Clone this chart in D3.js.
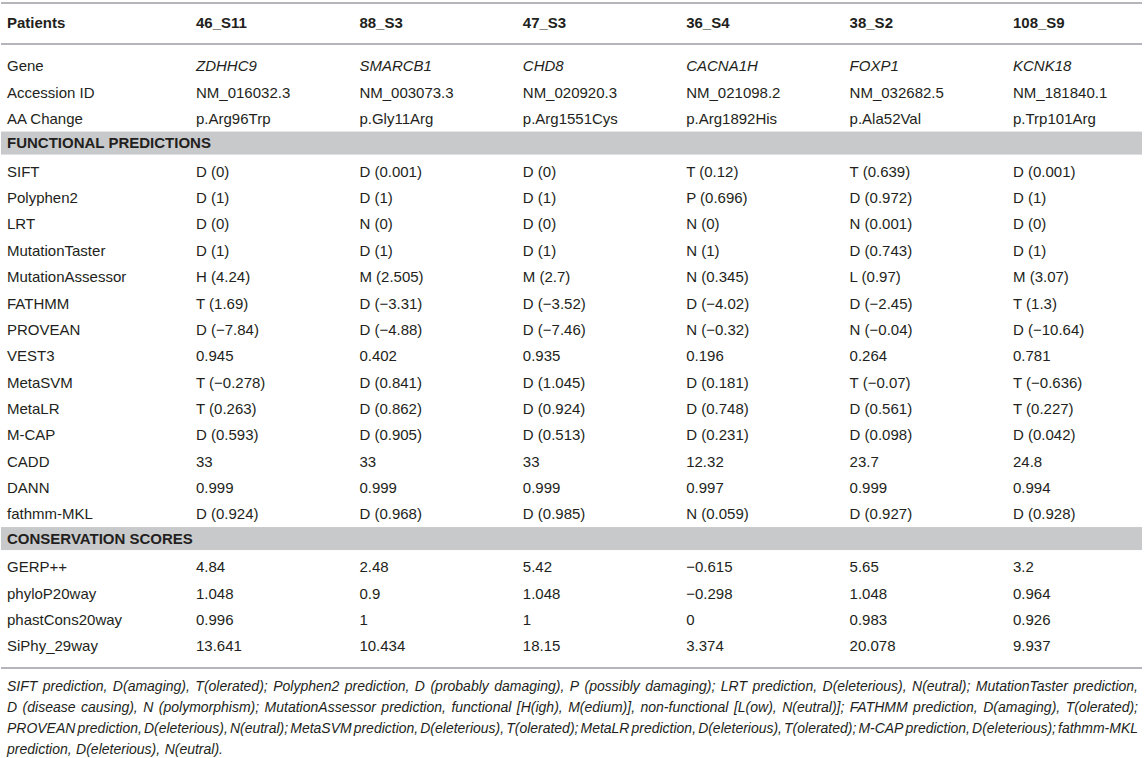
<!DOCTYPE html>
<html>
<head>
<meta charset="utf-8">
<script src="https://cdn.jsdelivr.net/npm/d3@7"></script>
<style>
  body { margin: 0; background: #fff; }
  svg { display: block; font-family: "Liberation Sans", Arial, Helvetica, sans-serif; }
</style>
</head>
<body>
<script>
// column headers
const patients = ["46_S11", "88_S3", "47_S3", "36_S4", "38_S2", "108_S9"];

// variant info
const genes = ["ZDHHC9", "SMARCB1", "CHD8", "CACNA1H", "FOXP1", "KCNK18"];
const accessions = ["NM_016032.3", "NM_003073.3", "NM_020920.3", "NM_021098.2", "NM_032682.5", "NM_181840.1"];
const aaChanges = ["p.Arg96Trp", "p.Gly11Arg", "p.Arg1551Cys", "p.Arg1892His", "p.Ala52Val", "p.Trp101Arg"];

// functional predictions
const functionalTools = ["SIFT", "Polyphen2", "LRT", "MutationTaster", "MutationAssessor", "FATHMM",
  "PROVEAN", "VEST3", "MetaSVM", "MetaLR", "M-CAP", "CADD", "DANN", "fathmm-MKL"];
const sift = ["D (0)", "D (0.001)", "D (0)", "T (0.12)", "T (0.639)", "D (0.001)"];
const polyphen2 = ["D (1)", "D (1)", "D (1)", "P (0.696)", "D (0.972)", "D (1)"];
const lrt = ["D (0)", "N (0)", "D (0)", "N (0)", "N (0.001)", "D (0)"];
const mutationTaster = ["D (1)", "D (1)", "D (1)", "N (1)", "D (0.743)", "D (1)"];
const mutationAssessor = ["H (4.24)", "M (2.505)", "M (2.7)", "N (0.345)", "L (0.97)", "M (3.07)"];
const fathmm = ["T (1.69)", "D (−3.31)", "D (−3.52)", "D (−4.02)", "D (−2.45)", "T (1.3)"];
const provean = ["D (−7.84)", "D (−4.88)", "D (−7.46)", "N (−0.32)", "N (−0.04)", "D (−10.64)"];
const vest3 = ["0.945", "0.402", "0.935", "0.196", "0.264", "0.781"];
const metaSVM = ["T (−0.278)", "D (0.841)", "D (1.045)", "D (0.181)", "T (−0.07)", "T (−0.636)"];
const metaLR = ["T (0.263)", "D (0.862)", "D (0.924)", "D (0.748)", "D (0.561)", "T (0.227)"];
const mCap = ["D (0.593)", "D (0.905)", "D (0.513)", "D (0.231)", "D (0.098)", "D (0.042)"];
const cadd = ["33", "33", "33", "12.32", "23.7", "24.8"];
const dann = ["0.999", "0.999", "0.999", "0.997", "0.999", "0.994"];
const fathmmMKL = ["D (0.924)", "D (0.968)", "D (0.985)", "N (0.059)", "D (0.927)", "D (0.928)"];

// conservation scores
const conservationTools = ["GERP++", "phyloP20way", "phastCons20way", "SiPhy_29way"];
const gerp = ["4.84", "2.48", "5.42", "−0.615", "5.65", "3.2"];
const phyloP = ["1.048", "0.9", "1.048", "−0.298", "1.048", "0.964"];
const phastCons = ["0.996", "1", "1", "0", "0.983", "0.926"];
const siPhy = ["13.641", "10.434", "18.15", "3.374", "20.078", "9.937"];

const footnoteLines = [
  "SIFT prediction, D(amaging), T(olerated); Polyphen2 prediction, D (probably damaging), P (possibly damaging); LRT prediction, D(eleterious), N(eutral); MutationTaster prediction,",
  "D (disease causing), N (polymorphism); MutationAssessor prediction, functional [H(igh), M(edium)], non-functional [L(ow), N(eutral)]; FATHMM prediction, D(amaging), T(olerated);",
  "PROVEAN prediction, D(eleterious), N(eutral); MetaSVM prediction, D(eleterious), T(olerated); MetaLR prediction, D(eleterious), T(olerated); M-CAP prediction, D(eleterious); fathmm-MKL",
  "prediction, D(eleterious), N(eutral)."
];

const sections = ["FUNCTIONAL PREDICTIONS", "CONSERVATION SCORES"];

const rows = [
  {key: "Gene", vals: genes, italic: true},
  {key: "Accession ID", vals: accessions},
  {key: "AA Change", vals: aaChanges},
  {key: sections[0], section: true},
  ...functionalTools.map((t, i) => ({key: t, vals: [sift, polyphen2, lrt, mutationTaster, mutationAssessor,
    fathmm, provean, vest3, metaSVM, metaLR, mCap, cadd, dann, fathmmMKL][i]})),
  {key: sections[1], section: true},
  ...conservationTools.map((t, i) => ({key: t, vals: [gerp, phyloP, phastCons, siPhy][i]}))
];

const W = 1145, H = 758;
const textColor = "#231f20";
const ruleColor = "#b4b6b9";
const bandColor = "#c8c9cb";
const fs = 15;
const noteFs = 14;

const svg = d3.select("body").append("svg")
  .attr("width", W)
  .attr("height", H);

const x = d3.scalePoint().domain(patients).range([196, 1013]);
const y = d3.scaleBand().domain(rows.map(d => d.key)).range([52.8, 659.2]);
const labelX = 7;

// rules
[3, 44, 668].forEach(ry => {
  svg.append("line")
    .attr("x1", 1).attr("x2", 1142)
    .attr("y1", ry).attr("y2", ry)
    .attr("stroke", ruleColor).attr("stroke-width", 2);
});

// section bands
svg.selectAll("rect.band").data(rows.filter(d => d.section)).join("rect")
  .attr("class", "band")
  .attr("x", 1).attr("width", 1141)
  .attr("y", d => y(d.key) + (y.bandwidth() - 23) / 2 - 2)
  .attr("height", 23)
  .attr("fill", bandColor);

// header
const header = svg.append("g").attr("font-weight", "bold").attr("font-size", fs).attr("fill", textColor);
header.append("text").attr("x", labelX).attr("y", 23).attr("dy", "0.35em").text("Patients");
header.selectAll("text.p").data(patients).join("text")
  .attr("class", "p")
  .attr("x", d => x(d)).attr("y", 23).attr("dy", "0.35em")
  .text(d => d);

// row labels
svg.selectAll("text.lab").data(rows).join("text")
  .attr("class", "lab")
  .attr("x", labelX)
  .attr("y", d => y(d.key) + y.bandwidth() / 2 - (d.section ? 2 : 0))
  .attr("dy", "0.35em")
  .attr("font-size", fs)
  .attr("font-weight", d => d.section ? "bold" : null)
  .attr("fill", textColor)
  .text(d => d.key);

// cells
const dataRows = rows.filter(d => !d.section);
const rowG = svg.selectAll("g.row").data(dataRows).join("g")
  .attr("class", "row")
  .attr("transform", d => `translate(0,${y(d.key) + y.bandwidth() / 2})`);

rowG.selectAll("text").data(d => d.vals.map((v, i) => ({v, p: patients[i], italic: d.italic}))).join("text")
  .attr("x", d => x(d.p))
  .attr("dy", "0.35em")
  .attr("font-size", fs)
  .attr("font-style", d => d.italic ? "italic" : null)
  .attr("fill", textColor)
  .text(d => d.v);

// footnote, justified
const noteY = [686, 707, 728, 749];
const noteLeft = 7, noteRight = 1138;
const note = svg.append("g")
  .attr("font-size", noteFs)
  .attr("font-style", "italic")
  .attr("fill", textColor);

footnoteLines.forEach((line, li) => {
  const words = line.split(" ");
  const t = note.append("text").attr("y", noteY[li]).attr("dy", "0.35em");
  const spans = words.map(w => t.append("tspan").text(w));
  let widths = spans.map(s => s.node().getComputedTextLength());
  const last = li === footnoteLines.length - 1;
  let gap = last ? 4.5 : (noteRight - noteLeft - d3.sum(widths)) / (words.length - 1);
  // squeeze the glyphs a little if a line does not fit
  if (gap < 2) {
    t.attr("font-size", noteFs * (noteRight - noteLeft - 2 * (words.length - 1)) / d3.sum(widths));
    widths = spans.map(s => s.node().getComputedTextLength());
    gap = (noteRight - noteLeft - d3.sum(widths)) / (words.length - 1);
  }
  let cx = noteLeft;
  spans.forEach((s, i) => {
    s.attr("x", cx);
    cx += widths[i] + gap;
  });
});
</script>
</body>
</html>
